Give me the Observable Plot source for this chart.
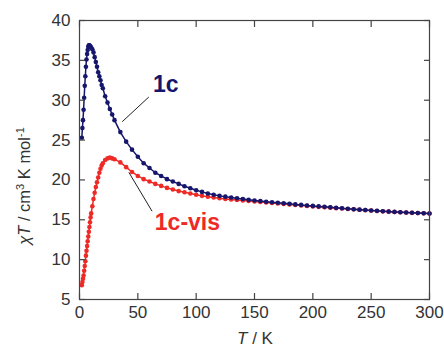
<!DOCTYPE html>
<html>
<head>
<meta charset="utf-8">
<script src="https://cdn.jsdelivr.net/npm/d3@7"></script>
<script src="https://cdn.jsdelivr.net/npm/@observablehq/plot@0.6"></script>
<style>
  html, body { margin: 0; padding: 0; background: #fff; }
  #chart { width: 444px; height: 347px; }
</style>
</head>
<body>
<div id="chart"></div>
<script>
// Temperature (K)
const temps = [2,2.5,3,3.5,4,4.5,5,5.5,6,6.5,7,7.5,8,8.5,9,9.5,10,
  11,12,13,14,15,16,17,18,19,20,22,24,26,28,30,
  35,40,45,50,55,60,65,70,75,80,85,90,95,100,105,110,115,120,125,130,135,140,145,
  150,155,160,165,170,175,180,185,190,195,200,205,210,215,220,225,230,235,240,245,250,
  255,260,265,270,275,280,285,290,295,300];

// chiT for 1c (cm3 K mol-1)
const chiT_1c = [25.3,26.5,27.5,28.8,30.3,31.8,33.0,34.2,35.1,35.8,36.3,36.7,36.9,36.9,36.8,36.7,36.6,
  36.4,36.0,35.4,34.8,34.2,33.5,33.0,32.5,31.9,31.5,30.5,29.7,28.9,28.2,27.5,
  26.0,24.8,23.8,22.9,22.1,21.5,20.9,20.5,20.1,19.8,19.5,19.2,18.95,18.7,18.5,18.3,18.15,18.0,17.9,17.8,17.7,17.6,17.5,
  17.42,17.35,17.27,17.2,17.13,17.06,17.0,16.93,16.87,16.8,16.74,16.68,16.62,16.56,16.5,16.44,16.38,16.32,16.27,16.22,16.17,
  16.12,16.07,16.03,15.99,15.95,15.91,15.88,15.85,15.82,15.79];

// chiT for 1c-vis
const chiT_1cvis = [6.8,7.2,7.6,8.0,8.6,9.2,9.8,10.5,11.1,11.7,12.3,12.9,13.5,14.1,14.7,15.3,15.8,
  16.7,17.6,18.4,19.1,19.7,20.3,20.9,21.4,21.8,22.1,22.5,22.7,22.8,22.7,22.6,
  22.2,21.6,21.0,20.5,20.1,19.8,19.5,19.25,19.0,18.8,18.6,18.45,18.3,18.15,18.0,17.9,17.8,17.7,17.62,17.55,17.48,17.42,17.36,
  17.3,17.23,17.17,17.1,17.04,16.98,16.92,16.86,16.8,16.74,16.68,16.62,16.57,16.52,16.46,16.41,16.36,16.31,16.26,16.21,16.16,
  16.11,16.06,16.02,15.98,15.94,15.9,15.87,15.84,15.81,15.78];

const xTicks = [0,50,100,150,200,250,300];
const yTicks = [5,10,15,20,25,30,35,40];

// Annotation labels and leader lines (data coordinates)
const labelNames = ["1c", "1c-vis"];
const labelT = [74, 92.5];
const labelChi = [32.0, 14.65];
const leaderT1 = [36.6, 42.3];
const leaderChi1 = [27.3, 20.95];
const leaderT2 = [59.4, 62.2];
const leaderChi2 = [30.4, 16.07];

const navy = "#16166c";
const red = "#ee2a26";

const d1 = temps.map((t, i) => ({T: t, v: chiT_1c[i]}));
const d2 = temps.map((t, i) => ({T: t, v: chiT_1cvis[i]}));
const labels = labelNames.map((n, i) => ({name: n, T: labelT[i], v: labelChi[i], color: i === 0 ? navy : red}));
const leaders = labelNames.map((n, i) => ({x1: leaderT1[i], y1: leaderChi1[i], x2: leaderT2[i], y2: leaderChi2[i]}));

const plot = Plot.plot({
  width: 444,
  height: 347,
  marginLeft: 79,
  marginRight: 15,
  marginTop: 20,
  marginBottom: 48,
  style: {fontFamily: "'Liberation Sans', Arial, sans-serif", fontSize: "17px", color: "#333", background: "#fff"},
  x: {domain: [0, 300]},
  y: {domain: [5, 40]},
  marks: [
    Plot.line(d2, {x: "T", y: "v", stroke: red, strokeWidth: 1.5}),
    Plot.dot(d2, {x: "T", y: "v", fill: red, r: 2.3}),
    Plot.line(d1, {x: "T", y: "v", stroke: navy, strokeWidth: 1.5}),
    Plot.dot(d1, {x: "T", y: "v", fill: navy, r: 2.3}),
    Plot.link(leaders, {x1: "x1", y1: "y1", x2: "x2", y2: "y2", stroke: "#222", strokeWidth: 1}),
    Plot.text(labels, {x: "T", y: "v", text: "name", fill: "color", fontSize: 23, fontWeight: "bold", textAnchor: "middle"}),
    Plot.frame({stroke: "#444", strokeWidth: 1.2}),
    Plot.axisX({anchor: "bottom", ticks: xTicks, tickSize: -6, tickPadding: 12, label: null, stroke: "#444", strokeWidth: 1.2}),
    Plot.axisX({anchor: "top", ticks: xTicks, tickSize: -6, tickFormat: () => "", label: null, stroke: "#444", strokeWidth: 1.2}),
    Plot.axisY({anchor: "left", ticks: yTicks, tickSize: -6, tickPadding: 15, label: null, stroke: "#444", strokeWidth: 1.2}),
    Plot.axisY({anchor: "right", ticks: yTicks, tickSize: -6, tickFormat: () => "", label: null, stroke: "#444", strokeWidth: 1.2})
  ]
});

document.getElementById("chart").appendChild(plot);

const svg = d3.select(plot);
// x-axis title
const xt = svg.append("text")
  .attr("x", 255).attr("y", 344)
  .attr("text-anchor", "middle")
  .attr("fill", "#333")
  .style("font-family", "'Liberation Sans', Arial, sans-serif")
  .style("font-size", "17px");
xt.append("tspan").attr("font-style", "italic").text("T");
xt.append("tspan").text(" / K");

// y-axis title
const yt = svg.append("text")
  .attr("transform", "translate(30,186) rotate(-90)")
  .attr("text-anchor", "middle")
  .attr("fill", "#333")
  .style("font-family", "'Liberation Sans', Arial, sans-serif")
  .style("font-size", "16.5px");
yt.append("tspan").attr("font-style", "italic").text("χT");
yt.append("tspan").text(" / cm");
yt.append("tspan").attr("dy", -6).attr("font-size", "11px").text("3");
yt.append("tspan").attr("dy", 6).text(" K mol");
yt.append("tspan").attr("dy", -6).attr("font-size", "11px").text("-1");
</script>
</body>
</html>
